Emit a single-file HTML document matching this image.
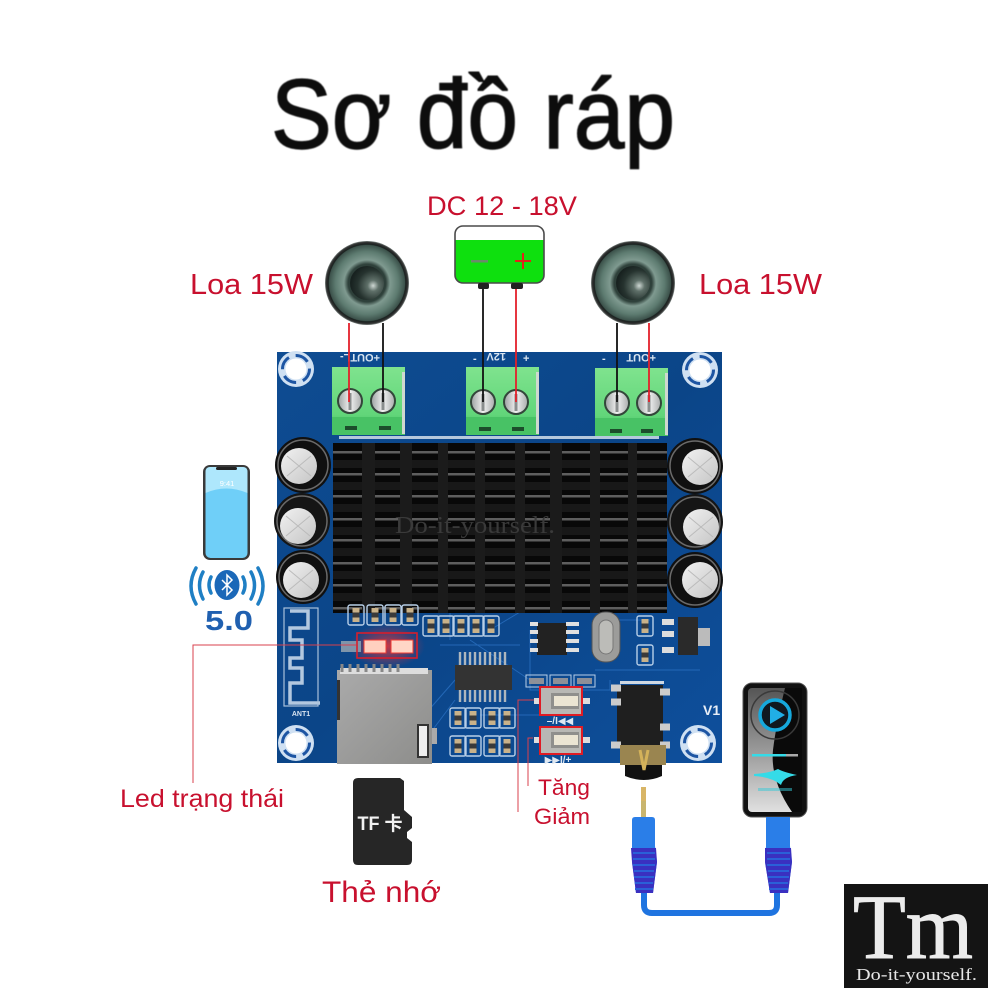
<!DOCTYPE html>
<html><head><meta charset="utf-8"><style>html,body{margin:0;padding:0;background:#fff}svg{display:block}text{font-family:"Liberation Sans","DejaVu Sans",sans-serif}</style></head><body>
<svg width="1000" height="1000" viewBox="0 0 1000 1000" xmlns="http://www.w3.org/2000/svg">
<defs>
<radialGradient id="spk" cx="50%" cy="50%" r="50%"><stop offset="0" stop-color="#1e2a27"/><stop offset=".45" stop-color="#2f413b"/><stop offset=".55" stop-color="#7f9a90"/><stop offset=".75" stop-color="#5d7b70"/><stop offset=".9" stop-color="#3c524b"/><stop offset=".92" stop-color="#1a211f"/><stop offset=".97" stop-color="#333"/><stop offset="1" stop-color="#7f8a86"/></radialGradient>
<radialGradient id="cone" cx="68%" cy="58%" r="65%"><stop offset="0" stop-color="#cfd8d4"/><stop offset=".25" stop-color="#5f7069"/><stop offset=".7" stop-color="#26332f"/><stop offset="1" stop-color="#182220"/></radialGradient>
<linearGradient id="board" x1="0" y1="0" x2="1" y2="1"><stop offset="0" stop-color="#0e4c92"/><stop offset=".5" stop-color="#0b4588"/><stop offset="1" stop-color="#0e4f9c"/></linearGradient>
<linearGradient id="playbg" x1="0" y1="0" x2="0" y2="1"><stop offset="0" stop-color="#555"/><stop offset=".5" stop-color="#999"/><stop offset="1" stop-color="#e0e0e0"/></linearGradient>
<linearGradient id="green" x1="0" y1="0" x2="0" y2="1"><stop offset="0" stop-color="#7fe38e"/><stop offset=".7" stop-color="#62d67a"/><stop offset="1" stop-color="#3cb85a"/></linearGradient>
<linearGradient id="sd" x1="0" y1="0" x2="1" y2="1"><stop offset="0" stop-color="#aaa"/><stop offset="1" stop-color="#8d8d8b"/></linearGradient>
<linearGradient id="screw" x1="0" y1="0" x2="1" y2="0"><stop offset="0" stop-color="#9aa0a0"/><stop offset=".5" stop-color="#f2f2f2"/><stop offset="1" stop-color="#a8acac"/></linearGradient>
<linearGradient id="silver" x1="0" y1="0" x2="1" y2="1"><stop offset="0" stop-color="#f2f2f2"/><stop offset="1" stop-color="#c4c4c4"/></linearGradient>
<radialGradient id="glow"><stop offset="0" stop-color="#ff3030" stop-opacity=".75"/><stop offset="1" stop-color="#ff3030" stop-opacity="0"/></radialGradient>
<filter id="b"><feGaussianBlur stdDeviation=".6"/></filter>
<g id="hole"><circle r="18" fill="#cfe0f2"/><circle r="13.5" fill="none" stroke="#1d55a3" stroke-width="3" stroke-dasharray="14 7"/><circle r="10.5" fill="#fff"/></g>
<g id="term"><rect x="0" y="0" width="73" height="68" fill="url(#green)"/><rect x="0" y="50" width="73" height="18" fill="#48c265"/><rect x="70" y="5" width="3" height="62" fill="#cfd8cf"/></g>
<g id="scr"><circle r="12" fill="url(#screw)" stroke="#33463a" stroke-width="2"/><rect x="-1.5" y="-8" width="3" height="17" fill="#8a8e8e"/></g>
<g id="slot"><rect x="-6" y="-2" width="12" height="4" fill="#1c4d2b"/></g>
<g id="smd"><rect x="-8" y="-10" width="16" height="20" rx="2" fill="none" stroke="#b8cfe8" stroke-width="1.4"/><rect x="-3.5" y="-7" width="7" height="14" fill="#c9b28a"/><rect x="-3.5" y="-2.5" width="7" height="5" fill="#3a3a3a"/></g>
<g id="btn"><rect x="-20" y="-13" width="40" height="26" fill="#b8b8b4"/><rect x="-10" y="-8" width="28" height="16" fill="#8f8f8c"/><rect x="-7" y="-5" width="24" height="10" fill="#ebe5d3"/><rect x="-27" y="-3" width="7" height="6" fill="#ddd"/><rect x="20" y="-3" width="9" height="6" fill="#ddd"/></g>
<g id="silv"><circle r="18" fill="url(#silver)"/><path d="M-12-10L12 10M-12 10L12-10" stroke="#bbb" stroke-width="1"/></g>
</defs>

<!-- title -->
<text x="271" y="148" font-size="98" fill="#0a0a0a" stroke="#0a0a0a" stroke-width="1.4" textLength="404" lengthAdjust="spacingAndGlyphs" filter="url(#b)">Sơ đồ ráp</text>

<!-- labels -->
<g fill="#c8102e">
<text x="427" y="215" font-size="27" textLength="150" lengthAdjust="spacingAndGlyphs">DC 12 - 18V</text>
<text x="190" y="294" font-size="29" textLength="123" lengthAdjust="spacingAndGlyphs">Loa 15W</text>
<text x="699" y="294" font-size="29" textLength="123" lengthAdjust="spacingAndGlyphs">Loa 15W</text>
<text x="120" y="807" font-size="25" textLength="164" lengthAdjust="spacingAndGlyphs">Led trạng thái</text>
<text x="538" y="795" font-size="22" textLength="52" lengthAdjust="spacingAndGlyphs">Tăng</text>
<text x="534" y="824" font-size="22" textLength="56" lengthAdjust="spacingAndGlyphs">Giảm</text>
<text x="322" y="902" font-size="30" textLength="119" lengthAdjust="spacingAndGlyphs">Thẻ nhớ</text>
</g>

<!-- board -->
<rect x="277" y="352" width="445" height="411" fill="url(#board)"/>
<g stroke="#2a6fc0" stroke-width="1" fill="none" opacity=".8">
<path d="M440 645L520 645M450 640V600M470 640L530 680M490 630L540 600M420 720L455 680M425 740L455 700M530 630V690H610V680M595 670H700M560 640L580 640M610 620H650M480 715H540"/>
</g>
<use href="#hole" x="296" y="369"/><use href="#hole" x="700" y="370"/><use href="#hole" x="296" y="743"/><use href="#hole" x="698" y="743"/>
<g fill="#d8e4f0" font-size="11" font-weight="bold">
<text x="348" y="362" transform="rotate(180 364 358)">+OUTL-</text><text x="473" y="362">-</text><text x="488" y="361" transform="rotate(180 497 357)">12V</text><text x="523" y="362">+</text><text x="602" y="362">-</text><text x="618" y="362" transform="rotate(180 637 358)">+OUT</text><text x="703" y="715" font-size="14" fill="#e8eef6">V1</text>
</g>
<rect x="339" y="436" width="320" height="3" fill="#b5c8dc"/>
<!-- terminals -->
<use href="#term" x="332" y="367"/><use href="#term" x="466" y="367"/><use href="#term" x="595" y="368"/>
<use href="#scr" x="350" y="401"/><use href="#scr" x="383" y="401"/><use href="#scr" x="483" y="402"/><use href="#scr" x="516" y="402"/><use href="#scr" x="617" y="403"/><use href="#scr" x="649" y="403"/>
<use href="#slot" x="351" y="428"/><use href="#slot" x="385" y="428"/><use href="#slot" x="485" y="429"/><use href="#slot" x="518" y="429"/><use href="#slot" x="616" y="431"/><use href="#slot" x="647" y="431"/>

<!-- caps -->
<circle cx="303" cy="577" r="27" fill="#101010"/><circle cx="302" cy="521" r="28" fill="#151515"/><circle cx="303" cy="465" r="28" fill="#101010"/>
<circle cx="303" cy="465" r="25" fill="none" stroke="#6a6a6a" stroke-width="1.5"/><circle cx="302" cy="521" r="25" fill="none" stroke="#6a6a6a" stroke-width="1.5"/><circle cx="303" cy="577" r="24" fill="none" stroke="#6a6a6a" stroke-width="1.5"/>
<use href="#silv" x="299" y="466"/><use href="#silv" x="298" y="526"/><use href="#silv" x="301" y="580"/>
<circle cx="695" cy="580" r="28" fill="#101010"/><circle cx="695" cy="522" r="28" fill="#151515"/><circle cx="695" cy="466" r="28" fill="#101010"/>
<circle cx="695" cy="466" r="25" fill="none" stroke="#6a6a6a" stroke-width="1.5"/><circle cx="695" cy="522" r="25" fill="none" stroke="#6a6a6a" stroke-width="1.5"/><circle cx="695" cy="580" r="25" fill="none" stroke="#6a6a6a" stroke-width="1.5"/>
<use href="#silv" x="700" y="467"/><use href="#silv" x="701" y="527"/><use href="#silv" x="700" y="580"/>

<!-- heatsink -->
<rect x="333" y="443" width="334" height="170" fill="#080808"/>
<g fill="#1b1b1b"><rect x="362" y="443" width="13" height="170"/><rect x="400" y="443" width="12" height="170"/><rect x="438" y="443" width="10" height="170"/><rect x="475" y="443" width="10" height="170"/><rect x="515" y="443" width="10" height="170"/><rect x="550" y="443" width="12" height="170"/><rect x="590" y="443" width="10" height="170"/><rect x="628" y="443" width="9" height="170"/></g>
<g fill="#5e5e5e">
<path id="r1" d="M333 451h29v2.5h-29zM375 451h25v2.5h-25zM412 451h26v2.5h-26zM448 451h27v2.5h-27zM485 451h30v2.5h-30zM525 451h25v2.5h-25zM562 451h28v2.5h-28zM600 451h28v2.5h-28zM637 451h30v2.5h-30z"/>
<use href="#r1" y="22"/><use href="#r1" y="44"/><use href="#r1" y="67"/><use href="#r1" y="88"/><use href="#r1" y="111"/><use href="#r1" y="133"/><use href="#r1" y="156"/>
</g>
<g fill="#333"><path id="r2" d="M333 460h29v8h-29zM375 460h25v8h-25zM412 460h26v8h-26zM448 460h27v8h-27zM485 460h30v8h-30zM525 460h25v8h-25zM562 460h28v8h-28zM600 460h28v8h-28zM637 460h30v8h-30z" opacity=".4"/>
<use href="#r2" y="22"/><use href="#r2" y="44"/><use href="#r2" y="67"/><use href="#r2" y="88"/><use href="#r2" y="111"/><use href="#r2" y="133"/></g>
<text x="395" y="533" font-size="24" fill="#3a3a3a" textLength="160" lengthAdjust="spacingAndGlyphs" style="font-family:'Liberation Serif',serif">Do-it-yourself.</text>

<!-- antenna -->
<path d="M290 611H308V628H290V640H302V658H290V668H302V683H290V703H320" fill="none" stroke="#b3c8df" stroke-width="3.5"/>
<rect x="284" y="608" width="34" height="98" fill="none" stroke="#a9c0da" stroke-width="1.2"/>
<text x="301" y="716" font-size="7" font-weight="bold" fill="#d8e4f0" text-anchor="middle">ANT1</text>
<!-- small smd top -->
<use href="#smd" x="356" y="615"/><use href="#smd" x="375" y="615"/><use href="#smd" x="393" y="615"/><use href="#smd" x="410" y="615"/>
<use href="#smd" x="431" y="626"/><use href="#smd" x="446" y="626"/><use href="#smd" x="461" y="626"/><use href="#smd" x="476" y="626"/><use href="#smd" x="491" y="626"/>
<!-- LEDs -->
<ellipse cx="387" cy="646" rx="38" ry="22" fill="url(#glow)"/>
<rect x="341" y="641" width="20" height="11" fill="#7f95aa"/>
<rect x="364" y="640" width="22" height="13" fill="#ffd0bf" stroke="#f03a30"/>
<rect x="391" y="640" width="22" height="13" fill="#ffd6c6" stroke="#f03a30"/>
<rect x="357" y="633" width="60" height="25" fill="none" stroke="#d81e2c" stroke-width="1.6"/>
<path d="M356 645H193V783" fill="none" stroke="#d9404d" stroke-width="1"/>
<!-- SD slot -->
<rect x="337" y="670" width="95" height="94" fill="url(#sd)"/>
<rect x="340" y="668" width="88" height="6" fill="#ddd"/>
<path d="M342 664v8M350 664v8M358 664v8M366 664v8M374 664v8M382 664v8M390 664v8M398 664v8" stroke="#888" stroke-width="3"/>
<rect x="418" y="725" width="10" height="32" fill="#eee" stroke="#333" stroke-width="2"/>
<rect x="432" y="728" width="5" height="16" fill="#aaa"/>
<rect x="337" y="680" width="3" height="40" fill="#333"/>
<!-- IC -->
<rect x="455" y="665" width="57" height="25" fill="#333"/>
<path d="M460 652V665M465 652V665M470 652V665M475 652V665M480 652V665M485 652V665M490 652V665M495 652V665M500 652V665M505 652V665M460 690V702M465 690V702M470 690V702M475 690V702M480 690V702M485 690V702M490 690V702M495 690V702M500 690V702M505 690V702" stroke="#aeb6bd" stroke-width="2.4"/>
<!-- SOP8 -->
<rect x="537" y="623" width="30" height="32" fill="#222"/>
<path d="M530 624H538M530 632H538M530 641H538M530 650H538M566 624H579M566 632H579M566 641H579M566 650H579" stroke="#e0e0e0" stroke-width="4"/>
<!-- crystal -->
<rect x="592" y="612" width="28" height="50" rx="13" fill="#9c9c9a" stroke="#555"/>
<rect x="599" y="620" width="14" height="34" rx="7" fill="#bcbcb8" stroke="#777"/>
<!-- regulator -->
<use href="#smd" x="645" y="626"/><use href="#smd" x="645" y="655"/>
<rect x="678" y="617" width="20" height="38" fill="#2a2a2a"/><rect x="698" y="628" width="12" height="18" fill="#bbb"/>
<path d="M662 622h12M662 634h12M662 650h12" stroke="#ddd" stroke-width="6"/>
<!-- small smd near IC -->
<use href="#smd" x="458" y="718"/><use href="#smd" x="473" y="718"/><use href="#smd" x="492" y="718"/><use href="#smd" x="507" y="718"/>
<use href="#smd" x="458" y="746"/><use href="#smd" x="473" y="746"/><use href="#smd" x="492" y="746"/><use href="#smd" x="507" y="746"/>
<g fill="none" stroke="#b8cfe8"><rect x="526" y="675" width="21" height="12"/><rect x="550" y="675" width="21" height="12"/><rect x="574" y="675" width="21" height="12"/></g>
<rect x="529" y="678" width="15" height="6" fill="#8d9098"/><rect x="553" y="678" width="15" height="6" fill="#8d9098"/><rect x="577" y="678" width="15" height="6" fill="#8d9098"/>
<!-- buttons -->
<use href="#btn" x="561" y="701"/><use href="#btn" x="561" y="740"/>
<rect x="540" y="687" width="42" height="28" fill="none" stroke="#e01b24" stroke-width="2"/>
<rect x="540" y="727" width="42" height="27" fill="none" stroke="#e01b24" stroke-width="2"/>
<text x="560" y="724" font-size="10" font-weight="bold" fill="#dfe8f2" text-anchor="middle">–/I◀◀</text>
<text x="558" y="763" font-size="10" font-weight="bold" fill="#dfe8f2" text-anchor="middle">▶▶I/+</text>
<path d="M534 700H518V812" fill="none" stroke="#d9404d" stroke-width="1"/>
<path d="M533 738H528V786" fill="none" stroke="#d9404d" stroke-width="1"/>
<!-- jack -->
<rect x="617" y="685" width="46" height="62" fill="#1f1f1f"/>
<rect x="620" y="681" width="44" height="3" fill="#cfd8e2"/>
<path d="M611 688h10M611 702h10M660 692h10M660 727h10M611 745h10M660 745h10" stroke="#ccc" stroke-width="7"/>
<path d="M620 745H666V765H620Z" fill="#9a8550"/>
<path d="M625 765H662V776Q644 784 625 776Z" fill="#111"/>
<path d="M640 750L644 770L648 750" fill="none" stroke="#d4b25a" stroke-width="3"/>

<!-- speakers -->
<circle cx="367" cy="283" r="42" fill="url(#spk)"/><circle cx="367" cy="283" r="17" fill="url(#cone)"/>
<circle cx="633" cy="283" r="42" fill="url(#spk)"/><circle cx="633" cy="283" r="17" fill="url(#cone)"/>
<!-- battery -->
<path d="M455 240H544V274Q544 283 535 283H464Q455 283 455 274Z" fill="#0ee00e"/>
<rect x="455" y="226" width="89" height="57" rx="8" fill="none" stroke="#4a4a4a" stroke-width="1.6"/>
<rect x="471" y="260" width="17" height="2.5" fill="#6a8a6a"/>
<path d="M515 261h16M523 253v16" stroke="#e2231a" stroke-width="2"/>
<rect x="478" y="283" width="11" height="6" rx="2" fill="#222"/><rect x="511" y="283" width="12" height="6" rx="2" fill="#222"/>
<!-- wires -->
<path d="M349 323V402" stroke="#e3202b" stroke-width="1.8"/>
<path d="M383 323V402" stroke="#111" stroke-width="1.8"/>
<path d="M483 289V402" stroke="#111" stroke-width="1.8"/>
<path d="M516 289V402" stroke="#e3202b" stroke-width="1.8"/>
<path d="M617 323V402" stroke="#111" stroke-width="1.8"/>
<path d="M649 323V402" stroke="#e3202b" stroke-width="1.8"/>

<!-- phone -->
<rect x="203" y="465" width="47" height="95" rx="7" fill="#3a3a3a"/>
<rect x="205.500" y="467" width="42" height="91" rx="5" fill="#6fcff8"/>
<path d="M205.500 472Q205.500 467 210 467H243Q247.500 467 247.500 472V493Q226 484 205.500 493Z" fill="#aee7fc"/>
<rect x="216" y="467" width="21" height="3" rx="1.500" fill="#222"/>
<text x="227" y="486" font-size="7.500" fill="#fff" text-anchor="middle">9:41</text>
<!-- bluetooth -->
<g fill="none" stroke="#1f7fc4" stroke-linecap="round">
<path d="M211 577Q207 585 211 593M243 577Q247 585 243 593" stroke-width="3.500"/>
<path d="M203 572Q196 585 203 599M251 572Q258 585 251 599" stroke-width="3.500"/>
<path d="M196 568Q186 586 196 604M258 568Q268 586 258 604" stroke-width="3.500"/>
</g>
<ellipse cx="227" cy="585" rx="12.500" ry="15" fill="#1b68b8"/>
<path d="M222 580L232 590L227 595V575L232 580L222 590" fill="none" stroke="#fff" stroke-width="1.500"/>
<text x="229" y="630" font-size="28" font-weight="bold" fill="#2060b0" text-anchor="middle" textLength="48" lengthAdjust="spacingAndGlyphs">5.0</text>

<!-- TF card -->
<path d="M353 783Q353 778 358 778H400L404 781V810L412 817V828L407 832V838L412 842V860Q412 865 407 865H358Q353 865 353 860Z" fill="#262626"/>
<text x="380" y="830" font-size="19" fill="#f2f2f2" font-weight="bold" text-anchor="middle" textLength="45" lengthAdjust="spacingAndGlyphs" style="font-family:'Liberation Sans','Noto Sans CJK SC',sans-serif">TF 卡</text>

<!-- player -->
<rect x="743" y="683" width="64" height="134" rx="9" fill="#111" stroke="#555"/>
<rect x="748" y="688" width="54" height="124" rx="4" fill="url(#playbg)"/>
<path d="M785 688H802V812H792Q770 780 773 750Q776 725 785 688Z" fill="#0a0a0a"/>
<circle cx="775" cy="715" r="24" fill="none" stroke="#3a3a3a" stroke-width="1.500"/>
<circle cx="775" cy="715" r="15" fill="#101820" stroke="#16a8dc" stroke-width="3.500"/>
<path d="M770 706L785 715L770 724Z" fill="#21aee6"/>
<rect x="752" y="754" width="46" height="2.500" fill="#aaa"/><rect x="752" y="754" width="34" height="2.500" fill="#35dbe8"/>
<path d="M754 774Q770 773 778 769Q783 772 797 775Q783 777 781 785Q772 777 754 776Z" fill="#35dbe8"/>
<rect x="758" y="788" width="34" height="3" fill="#35c9d8" opacity=".5"/>

<!-- cable -->
<path d="M644 892V905Q644 913 652 913H769Q777 913 777 905V892" fill="none" stroke="#1f74e0" stroke-width="6"/>
<rect x="641" y="787" width="5" height="14" fill="#d8b566"/><rect x="641" y="801" width="5" height="16" fill="#c9b56e"/>
<path d="M632 820Q632 817 635 817H652Q655 817 655 820V846L657 862L653 893H636L632 862L632 846Z" fill="#2a7ee8"/>
<path d="M631 848H656L657 862L653 893H636L632 862Z" fill="#3a30c0"/>
<path d="M633 853H655M633 859H655M633 865H655M634 871H654M634 877H654M635 883H653M635 889H653" stroke="#2a60d8" stroke-width="2"/>
<path d="M766 817H790V846L792 862L788 893H770L765 862L766 846Z" fill="#2a7ee8"/>
<path d="M765 848H791L792 862L788 893H770L765 862Z" fill="#3a30c0"/>
<path d="M767 853H790M767 859H790M767 865H790M768 871H789M768 877H789M769 883H788M769 889H788" stroke="#2a60d8" stroke-width="2"/>

<!-- logo -->
<rect x="844" y="884" width="144" height="104" fill="#141414"/>
<text x="853" y="958" font-size="92" fill="#ececec" stroke="#ececec" stroke-width="1" textLength="120" lengthAdjust="spacingAndGlyphs" style="font-family:'Liberation Serif',serif">Tm</text>
<text x="856" y="980" font-size="17" fill="#e6e6e6" textLength="121" lengthAdjust="spacingAndGlyphs" style="font-family:'Liberation Serif',serif">Do-it-yourself.</text>
</svg>
</body></html>
